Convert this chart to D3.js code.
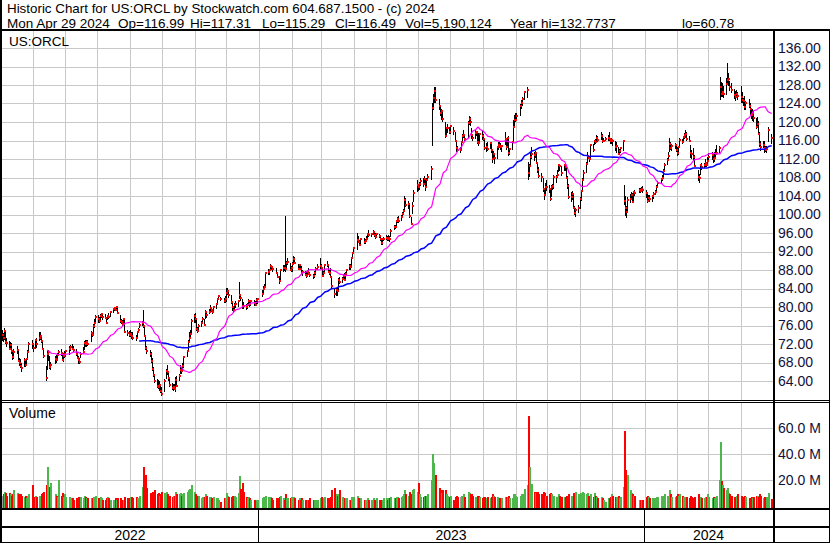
<!DOCTYPE html>
<html><head><meta charset="utf-8">
<script src="https://cdn.jsdelivr.net/npm/d3@7"></script>
<style>
body{margin:0;background:#fff}
svg{display:block}
text{font-family:Arial,"Liberation Sans",sans-serif}
</style>
</head><body>
<svg id="c" width="830" height="543"></svg>
<script>
// ---------- DATA ----------
const startDate = "2022-05-02";
const endDate = "2024-04-29";
const holidays = ["2022-05-30","2022-06-20","2022-07-04","2022-09-05","2022-11-24","2022-12-26",
"2023-01-02","2023-01-16","2023-02-20","2023-04-07","2023-05-29","2023-06-19","2023-07-04","2023-09-04","2023-11-23","2023-12-25",
"2024-01-01","2024-01-15","2024-02-19","2024-03-29"];

const closes = [
74.0,73.2,74.8,72.5,72.3,71.0,71.8,70.5,69.2,70.3,70.6,68.4,68.0,67.2,66.9,68.6,67.5,68.7,70.2,72.0,71.9,
71.2,72.8,72.0,73.3,73.8,72.6,71.0,69.3,64.6,69.8,70.2,67.0,67.4,68.8,68.6,69.6,70.3,70.0,68.6,69.5,69.9,
70.4,70.9,71.4,71.0,70.8,69.8,69.0,68.6,68.2,69.8,70.2,72.3,72.0,72.5,72.1,74.3,74.0,75.8,76.5,77.8,
77.5,77.0,78.0,78.4,77.8,77.6,76.6,78.0,77.8,78.9,79.5,79.8,79.4,80.0,78.8,76.9,76.7,76.4,77.3,74.6,74.3,74.0,74.2,
73.8,73.3,73.2,74.5,75.1,76.2,76.6,76.0,73.8,71.2,70.4,69.9,68.4,66.5,65.2,63.9,63.0,62.8,63.1,61.8,61.2,
63.9,66.2,66.0,64.6,63.2,62.4,62.6,62.3,64.3,62.9,65.0,66.3,66.1,67.2,69.2,70.5,72.5,73.4,74.1,77.0,78.0,
77.4,75.2,74.9,76.0,76.6,77.3,76.2,78.9,78.3,79.0,79.8,79.3,79.0,79.9,80.6,81.8,82.3,81.8,81.3,81.7,83.0,
83.5,82.7,81.0,80.1,79.4,80.4,80.6,81.3,82.6,81.9,80.3,80.2,80.0,80.4,81.2,80.6,81.2,80.9,80.5,81.6,81.7,
82.8,84.0,84.4,87.3,87.6,88.0,88.9,88.6,88.2,87.4,86.4,85.6,87.9,88.5,88.4,88.3,89.6,89.8,88.0,88.4,
89.4,90.4,89.6,88.3,89.0,88.3,87.4,87.6,87.0,86.8,87.5,87.2,87.0,86.6,87.3,88.3,88.6,88.9,88.5,
86.8,87.4,89.1,89.0,87.6,87.4,86.5,84.6,82.8,83.6,83.4,85.9,85.3,86.0,86.6,85.9,87.1,87.9,88.9,88.6,90.5,91.6,92.8,
94.5,94.0,93.5,94.8,94.0,94.3,94.6,95.8,95.5,95.7,96.2,95.6,95.2,95.7,95.4,94.6,93.9,94.6,94.7,
95.0,94.6,94.9,94.8,96.5,97.3,97.2,98.5,99.0,98.5,99.5,100.1,100.8,103.2,102.1,102.3,99.6,97.9,101.8,104.7,106.3,105.9,
106.5,107.3,106.7,107.6,105.9,107.5,108.2,109.9,123.0,125.2,126.8,124.8,123.4,122.0,122.4,120.6,117.0,118.6,118.7,117.9,119.1,
118.0,116.0,114.3,114.0,114.0,115.6,117.0,117.1,116.4,119.8,120.6,119.9,117.1,116.6,117.6,117.8,115.6,115.4,117.3,117.0,
116.3,114.4,114.6,114.2,115.5,114.0,112.1,113.0,112.3,114.5,115.1,114.9,114.6,114.8,116.3,114.6,116.5,113.2,114.1,115.6,118.9,120.4,120.5,
121.2,123.5,124.2,125.0,126.5,126.9,108.9,110.5,112.4,113.0,112.8,113.3,111.2,109.6,108.3,108.1,105.5,104.2,106.0,105.9,
105.6,103.4,106.0,106.1,108.1,108.2,108.6,110.6,110.4,109.0,110.8,110.3,108.0,106.1,103.7,103.8,104.5,101.5,100.4,100.9,101.5,103.3,
105.1,107.4,109.0,111.0,112.7,112.3,111.9,115.0,113.9,115.9,115.7,116.5,116.1,117.0,115.8,116.0,116.4,116.6,116.4,115.8,116.2,
116.0,114.6,114.8,113.1,113.8,114.4,115.8,103.0,101.4,100.6,103.2,103.4,104.2,102.8,104.8,104.6,105.3,105.1,105.6,105.4,
104.6,103.0,103.6,103.4,103.9,104.5,104.9,106.0,106.8,107.6,108.0,109.5,110.6,111.8,112.6,115.3,114.4,114.8,115.1,114.0,113.2,
114.6,116.2,115.6,116.7,117.2,117.4,116.3,116.0,113.3,113.1,112.5,110.5,108.2,107.9,110.6,110.2,110.6,111.1,110.6,111.6,
112.4,112.8,112.0,112.3,113.0,113.4,114.4,127.5,126.1,126.4,126.0,128.2,129.0,129.3,127.6,127.0,125.8,125.3,126.1,125.6,
125.5,124.8,124.5,123.2,124.0,123.5,122.9,121.5,122.0,120.8,119.0,119.6,117.5,115.2,114.5,115.1,114.3,114.0,114.1,118.3,116.49
];

const highs = [
75.0,74.3,75.4,74.6,73.4,72.6,72.5,72.2,70.8,71.0,71.5,70.9,69.0,68.8,67.9,68.9,68.7,69.0,70.6,72.4,72.8,
72.0,73.1,73.2,74.7,74.5,73.8,72.5,71.0,67.3,70.5,70.8,69.5,68.2,69.4,69.6,70.0,70.8,71.0,70.3,70.0,70.4,
70.8,71.5,71.8,71.9,71.6,70.9,70.3,69.5,69.0,70.2,71.3,72.6,72.8,72.9,72.8,74.8,74.7,76.3,77.3,78.2,
78.3,77.9,78.4,78.8,78.2,78.5,77.6,78.3,78.6,79.1,79.8,80.1,80.0,80.3,79.8,78.2,77.5,77.2,77.6,77.5,75.1,74.9,75.0,
74.5,74.6,74.0,74.8,75.4,76.5,77.0,79.4,76.0,74.0,71.5,70.6,70.2,69.0,67.0,65.5,64.4,64.2,64.0,63.0,62.7,
64.5,66.6,67.5,66.0,64.5,63.5,63.4,63.3,64.8,65.0,65.5,67.5,66.9,67.8,69.5,70.8,72.9,74.6,75.0,77.4,78.4,
78.6,77.5,75.6,76.4,77.0,77.9,77.5,79.3,79.0,79.6,80.5,80.0,79.6,80.2,80.9,82.0,82.6,82.2,82.0,82.3,84.2,
84.2,83.4,82.5,81.3,80.3,80.9,81.2,81.6,85.5,82.8,81.8,81.0,80.7,80.8,81.7,81.5,81.6,81.5,81.2,81.9,82.0,
83.6,84.5,84.9,87.6,88.2,88.3,89.4,89.1,88.7,88.5,87.6,86.6,88.1,89.0,89.0,99.7,89.9,90.6,89.6,88.9,
89.8,91.0,90.8,89.4,89.3,89.1,88.8,88.0,87.8,87.6,87.9,88.4,87.6,87.1,87.7,88.6,89.4,90.6,89.2,
88.3,87.8,89.4,90.0,89.2,87.9,88.5,86.6,84.2,84.2,84.3,86.2,86.4,86.4,87.2,87.4,87.5,88.3,89.2,89.3,90.8,92.0,92.9,
96.0,95.3,94.4,95.0,94.9,94.8,95.3,96.0,96.6,96.0,96.6,96.3,95.9,96.0,95.8,95.5,94.6,95.0,95.2,
95.6,95.4,95.6,95.4,96.8,97.7,97.7,98.8,99.4,99.6,99.9,100.5,101.2,103.9,103.5,102.9,102.4,99.4,102.6,105.2,107.4,106.6,
107.0,107.8,108.0,108.4,107.6,107.8,108.8,110.4,124.2,126.0,127.6,127.5,124.9,123.5,122.9,122.4,120.0,119.0,119.5,119.0,119.4,
119.0,117.8,115.8,114.8,114.5,115.8,117.4,118.3,117.2,120.2,121.2,121.0,118.7,117.5,118.3,118.0,117.7,117.6,117.7,118.3,
117.5,116.2,115.4,115.7,115.7,115.6,114.0,113.8,112.9,114.7,115.7,115.6,115.4,115.0,117.9,116.6,116.8,117.0,114.4,116.0,120.5,121.6,121.9,
122.0,123.8,124.8,125.3,126.7,127.5,111.4,111.0,113.2,114.6,113.5,113.8,113.5,111.4,110.2,108.9,107.9,105.7,106.9,107.5,
106.4,105.5,106.3,106.6,108.5,108.6,109.6,111.0,111.0,110.4,111.0,111.0,110.7,108.3,106.5,104.8,105.0,104.6,101.8,101.5,102.0,103.8,
105.4,107.8,109.6,111.3,113.5,112.9,112.5,115.2,115.3,116.1,116.4,117.1,116.9,117.8,117.4,116.5,116.8,117.1,117.8,116.6,116.5,
116.3,115.8,115.7,114.6,114.2,114.6,116.2,106.4,103.9,101.8,103.8,104.5,104.8,104.6,105.0,105.4,105.8,105.7,106.0,106.1,
105.2,104.4,104.3,104.3,104.2,104.8,105.3,106.4,107.2,108.0,108.5,109.8,111.1,112.2,113.5,116.5,115.7,115.2,115.4,115.3,114.6,
114.8,116.6,116.4,117.0,117.6,118.2,117.8,117.0,115.0,114.0,114.3,112.9,109.6,108.7,110.9,111.2,111.2,112.0,111.4,112.4,
113.2,113.5,112.9,113.5,114.1,115.0,114.8,129.8,128.6,128.5,127.8,129.6,132.77,130.5,128.9,128.4,127.2,126.6,127.0,126.5,
127.8,126.5,125.2,125.6,124.6,125.0,124.0,122.9,122.9,122.3,120.8,121.0,120.3,117.8,116.0,115.9,115.8,114.9,114.8,118.9,117.31
];

const lows = [
72.6,72.5,72.8,71.9,71.3,70.6,70.9,69.9,68.6,68.7,69.8,68.1,67.2,66.8,66.0,67.0,67.1,67.3,68.6,70.4,71.0,
70.3,71.0,71.2,72.6,72.8,72.3,70.8,68.9,64.0,66.3,68.4,66.5,66.3,67.7,67.8,68.4,69.3,69.5,68.4,68.2,68.9,
69.2,69.6,70.4,70.6,70.3,69.5,68.8,67.7,67.6,69.0,69.8,70.6,71.4,71.4,71.6,72.4,73.6,74.2,75.5,76.3,
76.6,76.5,76.8,77.6,77.2,77.4,76.4,77.2,77.4,77.8,78.6,79.1,79.1,79.2,78.4,76.6,76.3,75.9,76.4,74.4,73.8,73.6,73.6,
73.0,72.8,72.6,73.0,74.3,75.4,75.8,75.5,73.5,70.8,69.8,69.2,68.0,66.2,64.9,63.5,62.5,62.3,61.8,61.3,60.78,
61.6,64.4,65.2,64.1,62.8,62.0,61.9,62.0,61.7,62.6,63.9,65.6,65.5,66.0,66.8,69.1,70.2,72.3,73.2,74.0,76.5,
76.6,74.8,74.3,74.9,75.6,76.4,75.8,77.5,77.7,78.4,78.7,78.9,78.4,79.0,79.6,80.4,81.5,81.3,80.9,80.8,81.0,
82.6,82.0,80.6,79.2,78.6,79.3,79.8,79.9,81.8,81.2,79.5,79.6,79.3,79.6,80.3,79.9,80.3,80.3,80.2,80.5,80.7,
82.2,82.9,83.6,84.3,86.9,87.0,88.0,88.0,87.5,87.1,86.2,85.0,85.8,87.6,87.7,87.6,88.3,89.1,87.8,87.5,
87.6,89.0,89.2,88.0,88.0,88.0,87.1,86.8,86.8,86.2,86.5,87.0,86.4,86.0,86.2,87.0,87.9,88.2,88.0,
86.5,86.6,87.3,88.7,87.3,86.9,86.2,83.8,82.0,82.4,82.4,83.4,85.0,85.1,85.8,85.6,85.6,87.0,88.1,88.0,88.7,90.4,91.4,
92.3,93.8,93.1,93.3,93.6,93.6,94.2,94.7,95.1,95.1,95.5,95.2,94.7,95.0,95.0,94.2,93.3,93.5,94.2,
94.5,94.2,94.2,94.1,95.2,96.7,96.8,97.3,98.2,98.1,98.6,99.4,100.0,101.0,101.6,101.2,99.3,97.7,100.2,102.8,104.9,105.0,
105.3,106.1,106.0,106.5,105.0,106.1,107.3,107.4,114.8,122.6,124.0,124.2,122.5,121.2,120.4,120.0,116.5,116.8,117.6,117.3,117.5,
117.1,115.6,113.6,113.6,113.3,113.9,115.6,116.5,115.8,116.6,119.3,119.2,116.4,115.9,116.4,116.9,115.2,114.8,115.7,116.1,
116.0,114.0,113.5,113.8,114.1,113.3,111.2,112.0,111.0,112.0,114.0,114.3,113.9,113.6,115.0,113.9,114.6,112.6,112.8,114.0,115.7,118.8,120.0,
120.5,121.3,122.9,123.5,124.8,125.2,107.5,108.2,110.4,111.9,111.6,112.3,111.0,109.0,107.8,107.0,104.8,103.1,104.2,105.0,
104.6,103.0,103.8,105.3,105.5,106.9,107.8,109.1,109.5,108.4,109.4,109.5,107.6,105.6,103.3,102.6,103.2,101.1,100.0,99.4,100.4,101.2,
103.0,105.2,107.6,108.9,111.0,111.9,111.3,112.3,113.6,115.0,115.2,115.5,115.6,116.2,115.5,115.6,115.8,115.9,116.0,115.3,115.2,
114.8,113.8,113.4,112.9,112.9,113.2,113.8,102.0,99.6,99.2,100.6,102.4,103.1,102.5,102.9,104.1,104.6,104.6,105.0,104.6,
103.5,102.5,102.7,102.8,102.8,103.3,104.2,104.8,106.0,106.6,107.3,108.2,109.4,110.6,111.8,113.6,113.9,113.7,114.1,113.5,112.6,
112.9,114.6,115.2,115.4,116.4,116.6,115.9,115.6,112.2,112.0,111.5,110.2,107.3,106.8,108.6,109.7,110.0,110.3,110.2,110.8,
111.6,111.8,111.2,111.4,112.2,112.9,113.2,124.8,125.4,125.5,125.2,125.8,128.0,127.8,126.7,126.2,125.0,124.5,125.1,124.8,
124.0,124.2,123.5,122.6,122.6,123.0,121.5,120.6,120.2,120.0,118.4,118.8,117.2,114.7,113.8,114.4,113.3,113.6,113.4,115.6,115.29
];

// volume, millions of shares
const volumes = [
8,9,11,10,8,10,9,8,9,12,10,9,7,9,8,7,8,6,8,9,16,
7,8,7,8,7,9,10,11,16,30,13,15,18,9,8,7,20,8,10,7,9,
7,7,6,6,5,6,6,7,6,7,6,8,7,6,6,6,6,7,6,8,
6,6,7,6,5,5,6,7,6,5,5,5,6,5,6,6,5,5,5,7,6,6,7,
7,6,7,6,6,8,15,30,21,24,14,10,9,11,10,12,9,10,8,9,11,
10,11,9,8,8,7,8,8,11,9,9,10,8,9,10,11,12,13,12,16,11,
9,8,7,8,6,7,7,9,8,7,7,6,6,7,6,6,5,3,6,6,10,
8,7,7,8,7,8,7,10,23,13,18,11,7,6,7,6,5,5,5,5,5,
6,7,6,8,7,6,7,6,5,6,6,7,8,6,5,9,6,6,6,7,
6,7,6,5,6,5,6,5,5,5,5,5,6,5,5,5,5,6,7,
6,6,7,6,6,6,7,12,14,9,8,9,12,7,6,6,6,6,5,5,7,7,7,
8,6,5,6,5,5,5,6,5,5,6,5,5,6,5,5,5,5,6,
6,5,6,6,7,6,6,7,7,6,7,8,9,12,9,8,11,9,12,13,11,18,
9,7,7,8,8,8,9,20,40,33,22,24,14,12,10,12,12,9,8,7,8,
5,7,8,7,7,8,8,9,7,11,10,9,9,8,7,7,8,8,7,6,
7,7,6,7,6,7,9,8,7,7,6,6,6,6,7,7,7,8,6,6,9,9,8,
7,8,9,9,13,16,69,30,16,17,11,10,11,11,9,9,11,10,8,8,
9,10,9,7,8,7,7,9,8,7,7,7,8,8,9,8,8,10,9,11,9,10,
9,11,10,9,10,8,7,9,7,10,8,7,6,7,6,5,3,6,6,7,9,
8,7,7,8,6,7,15,58,28,20,24,12,10,9,8,8,5,5,5,5,
7,8,7,6,6,6,6,7,7,8,7,8,9,8,8,12,9,7,7,8,9,
8,9,8,7,7,7,7,6,8,7,6,7,9,7,7,6,6,7,7,9,
7,6,7,6,7,8,20,49,19,16,14,12,14,10,9,8,7,7,8,9,
8,7,7,8,7,6,6,7,6,7,8,8,7,9,8,6,7,6,7,10,5.19
];

const priceTicks = [64,68,72,76,80,84,88,92,96,100,104,108,112,116,120,124,128,132,136];
const volumeTicks = [20,40,60];
const years = ["2022","2023","2024"];
const titleLine1 = "Historic Chart for US:ORCL by Stockwatch.com 604.687.1500 - (c) 2024";
const titleFields = [
  ["Mon Apr 29 2024", 7], ["Op=116.99", 118], ["Hi=117.31", 190], ["Lo=115.29", 262],
  ["Cl=116.49", 335], ["Vol=5,190,124", 405], ["Year hi=132.7737", 510], ["lo=60.78", 682]
];
const maShort = 30, maLong = 90;

// ---------- CHART ----------
const svg = d3.select("#c");
svg.append("rect").attr("width",830).attr("height",543).attr("fill","#fff");

const parse = d3.utcParse("%Y-%m-%d");
const fmt = d3.utcFormat("%Y-%m-%d");
const hol = new Set(holidays);
const dates = [];
for (let d = parse(startDate); d <= parse(endDate); d = d3.utcDay.offset(d,1)) {
  const wd = d.getUTCDay();
  if (wd === 0 || wd === 6 || hol.has(fmt(d))) continue;
  dates.push(d);
}
const n = Math.min(dates.length, closes.length, highs.length, lows.length, volumes.length);

const L = 2, R = 773;
const x = d3.scaleUtc().domain([parse("2023-01-01"), parse("2024-01-01")]).range([260.0, 645.5]);
const y = d3.scaleLinear().domain([64,136]).range([381,48]);
const vy = d3.scaleLinear().domain([0,60]).range([506,428]);

const defs = svg.append("defs");
defs.append("clipPath").attr("id","cp").append("rect").attr("x",L).attr("y",31).attr("width",R-L).attr("height",369);
defs.append("clipPath").attr("id","cv").append("rect").attr("x",L).attr("y",403).attr("width",R-L).attr("height",105);

const grid = "#c8c8c8";
svg.append("g").selectAll("line").data(priceTicks).join("line")
  .attr("x1",L).attr("x2",R).attr("y1",d=>Math.round(y(d))+0.5).attr("y2",d=>Math.round(y(d))+0.5)
  .attr("stroke",grid).attr("stroke-width",1);
svg.append("g").selectAll("line").data(volumeTicks).join("line")
  .attr("x1",L).attr("x2",R).attr("y1",d=>Math.round(vy(d))+0.5).attr("y2",d=>Math.round(vy(d))+0.5)
  .attr("stroke",grid).attr("stroke-width",1);
const months = d3.utcMonth.range(parse("2022-06-01"), parse("2024-05-01"));
const vg = svg.append("g");
months.forEach(m => {
  const xx = Math.round(x(m)) - 0.5;
  vg.append("line").attr("x1",xx).attr("x2",xx).attr("y1",31).attr("y2",400).attr("stroke",grid);
  vg.append("line").attr("x1",xx).attr("x2",xx).attr("y1",403).attr("y2",508).attr("stroke",grid);
});

// price bars
const idx = d3.range(n);
const pg = svg.append("g").attr("clip-path","url(#cp)").attr("shape-rendering","crispEdges");
pg.selectAll("rect.b").data(idx).join("rect").attr("class","b")
  .attr("x",i=>Math.floor(x(dates[i])))
  .attr("width",1)
  .attr("y",i=>Math.round(y(Math.max(highs[i],closes[i]))))
  .attr("height",i=>Math.max(1, Math.round(y(Math.min(lows[i],closes[i]))) - Math.round(y(Math.max(highs[i],closes[i])))))
  .attr("fill","#000");
pg.selectAll("rect.c").data(idx).join("rect").attr("class","c")
  .attr("x",i=>Math.floor(x(dates[i])))
  .attr("width",2)
  .attr("y",i=>Math.round(y(closes[i]))-1)
  .attr("height",2)
  .attr("fill","#ff0000");

// moving averages
function sma(p){ return idx.map(i => i < p-1 ? null : d3.mean(closes.slice(i-p+1, i+1))); }
const maS = sma(maShort), maL = sma(maLong);
const line = arr => d3.line().defined(i=>arr[i]!=null).x(i=>x(dates[i])+0.5).y(i=>y(arr[i]))(idx);
const mg = svg.append("g").attr("clip-path","url(#cp)").attr("fill","none");
mg.append("path").attr("d",line(maL)).attr("stroke","#0000ff").attr("stroke-width",1.5);
mg.append("path").attr("d",line(maS)).attr("stroke","#ff00ff").attr("stroke-width",1.2);

// volume bars
const vgp = svg.append("g").attr("clip-path","url(#cv)").attr("shape-rendering","crispEdges");
vgp.selectAll("rect").data(idx).join("rect")
  .attr("x",i=>Math.floor(x(dates[i])))
  .attr("width",2)
  .attr("y",i=>Math.round(vy(volumes[i])))
  .attr("height",i=>508-Math.round(vy(volumes[i])))
  .attr("fill",i=> i===0 ? "#a0a0a0" : closes[i]>closes[i-1] ? "#4cb84c" : closes[i]<closes[i-1] ? "#ff0000" : "#a0a0a0");

// frames
const fr = svg.append("g").attr("shape-rendering","crispEdges");
fr.append("rect").attr("x",0).attr("y",0).attr("width",2).attr("height",543).attr("fill","#000");
fr.append("rect").attr("x",829).attr("y",29).attr("width",1).attr("height",514).attr("fill","#000");
fr.append("rect").attr("x",0).attr("y",542).attr("width",830).attr("height",1).attr("fill","#000");
fr.append("rect").attr("x",0).attr("y",29).attr("width",830).attr("height",2).attr("fill","#000");
fr.append("rect").attr("x",773).attr("y",29).attr("width",2).attr("height",514).attr("fill","#000");
fr.append("rect").attr("x",0).attr("y",400).attr("width",830).attr("height",1).attr("fill","#000");
fr.append("rect").attr("x",0).attr("y",402).attr("width",830).attr("height",1).attr("fill","#000");
fr.append("rect").attr("x",0).attr("y",508).attr("width",830).attr("height",2).attr("fill","#000");
fr.append("rect").attr("x",0).attr("y",526).attr("width",830).attr("height",2).attr("fill","#000");
const yearBounds = [parse("2023-01-01"), parse("2024-01-01")].map(d=>Math.round(x(d))-2);
yearBounds.forEach(b => fr.append("rect").attr("x",b).attr("y",510).attr("width",1).attr("height",33).attr("fill","#000"));

// year labels
const ySpan = [[L, yearBounds[0]], [yearBounds[0], yearBounds[1]], [yearBounds[1], R]];
svg.append("g").selectAll("text").data(years).join("text")
  .attr("x",(d,i)=>(ySpan[i][0]+ySpan[i][1])/2).attr("y",540)
  .attr("text-anchor","middle").attr("font-size",14).attr("fill","#000").text(d=>d);

// axes
const ax = svg.append("g").attr("transform","translate(775,0)")
  .call(d3.axisRight(y).tickValues(priceTicks).tickFormat(d3.format(".2f")).tickSize(0).tickPadding(3));
const vax = svg.append("g").attr("transform","translate(775,0)")
  .call(d3.axisRight(vy).tickValues(volumeTicks).tickFormat(d=>d.toFixed(1)+" M").tickSize(0).tickPadding(3));
[ax,vax].forEach(a=>{ a.select(".domain").remove();
  a.selectAll("text").attr("font-size",14).attr("fill","#10103a").attr("font-family","Arial, 'Liberation Sans', sans-serif"); });

// titles
svg.append("text").attr("x",7).attr("y",12.5).attr("font-size",13.5).attr("fill","#000")
  .attr("textLength",428).attr("lengthAdjust","spacingAndGlyphs").text(titleLine1);
svg.append("g").selectAll("text").data(titleFields).join("text")
  .attr("x",d=>d[1]).attr("y",28.3).attr("font-size",13.5).attr("fill","#000").text(d=>d[0]);
svg.append("text").attr("x",9).attr("y",46).attr("font-size",13.5).attr("fill","#000").text("US:ORCL");
svg.append("text").attr("x",9).attr("y",418).attr("font-size",14).attr("fill","#000").text("Volume");
</script>
</body></html>
